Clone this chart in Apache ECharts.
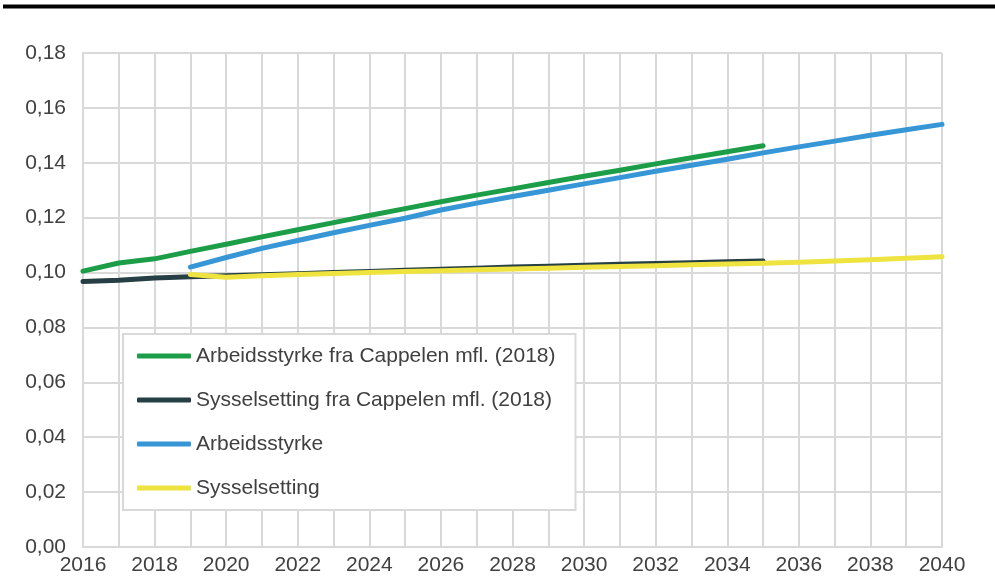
<!DOCTYPE html>
<html>
<head>
<meta charset="utf-8">
<script src="https://cdn.jsdelivr.net/npm/echarts@6/dist/echarts.min.js"></script>
<style>
  html, body { margin: 0; padding: 0; background: #fff; }
  #chart { width: 995px; height: 586px; }
</style>
</head>
<body>
<div id="chart"></div>
<script>
// årstall
var years = [];
for (var y = 2016; y <= 2040; y++) years.push(y);

var seriesNames = [
    'Arbeidsstyrke fra Cappelen mfl. (2018)',
    'Sysselsetting fra Cappelen mfl. (2018)',
    'Arbeidsstyrke',
    'Sysselsetting'
];

// 2016-2035
var arbCappelen = [0.1005, 0.1035, 0.1050, 0.1077, 0.1103, 0.1130, 0.1156, 0.1182, 0.1208, 0.1233,
                   0.1258, 0.1282, 0.1305, 0.1328, 0.1351, 0.1373, 0.1396, 0.1418, 0.1440, 0.1462];
// 2016-2035
var sysCappelen = [0.0967, 0.0972, 0.0980, 0.0985, 0.0988, 0.0992, 0.0996, 0.1000, 0.1004, 0.1008,
                   0.1012, 0.1016, 0.1020, 0.1023, 0.1027, 0.1030, 0.1033, 0.1036, 0.1039, 0.1042];
// 2019-2040
var arbeidsstyrke = [0.1020, 0.1055, 0.1088, 0.1117, 0.1145, 0.1172, 0.1198, 0.1228, 0.1253, 0.1277,
                     0.1300, 0.1323, 0.1346, 0.1369, 0.1391, 0.1413, 0.1436, 0.1458, 0.1479, 0.1500,
                     0.1520, 0.1540];
// 2019-2040
var sysselsetting = [0.0993, 0.0983, 0.0988, 0.0993, 0.0997, 0.1000, 0.1004, 0.1007, 0.1010, 0.1013,
                     0.1016, 0.1019, 0.1022, 0.1025, 0.1028, 0.1031, 0.1034, 0.1038, 0.1042, 0.1047,
                     0.1052, 0.1058];

var colors = ['#1c9e48', '#253f44', '#3796d5', '#eee33f'];

function toPairs(startYear, values) {
    return values.map(function (v, i) { return [startYear + i, v]; });
}

var chart = echarts.init(document.getElementById('chart'));
var textColor = '#404040';
var gridColor = '#d9d9d9';
var font = 'Liberation Sans, Arial, sans-serif';

function lineSeries(name, data, color) {
    return {
        name: name,
        type: 'line',
        data: data,
        showSymbol: false,
        symbol: 'none',
        smooth: false,
        lineStyle: { width: 5, color: color, cap: 'round', join: 'round' },
        itemStyle: { color: color }
    };
}

var option = {
    animation: false,
    color: colors,
    grid: { left: 83, right: 53, top: 53, bottom: 39 },
    graphic: [{
        type: 'line',
        shape: { x1: 3, y1: 6.5, x2: 995, y2: 6.5 },
        style: { stroke: '#000', lineWidth: 4 }
    }],
    xAxis: {
        type: 'value',
        min: 2016,
        max: 2040,
        interval: 1,
        axisLine: { show: true, lineStyle: { color: gridColor, width: 2 } },
        axisTick: { show: false },
        splitLine: { show: true, lineStyle: { color: gridColor, width: 2 } },
        axisLabel: {
            color: textColor,
            fontSize: 21,
            fontFamily: font,
            margin: 8,
            formatter: function (v) { return v % 2 === 0 ? String(v) : ''; }
        }
    },
    yAxis: {
        type: 'value',
        min: 0,
        max: 0.18,
        interval: 0.02,
        axisLine: { show: true, lineStyle: { color: gridColor, width: 2 } },
        axisTick: { show: false },
        splitLine: { show: true, lineStyle: { color: gridColor, width: 2 } },
        axisLabel: {
            color: textColor,
            fontSize: 21,
            fontFamily: font,
            margin: 17,
            formatter: function (v) { return v.toFixed(2).replace('.', ','); }
        }
    },
    legend: {
        orient: 'vertical',
        left: 123,
        top: 334,
        backgroundColor: '#fff',
        borderColor: gridColor,
        borderWidth: 2,
        padding: [10, 20, 10, 14],
        itemWidth: 54,
        itemHeight: 5,
        itemGap: 20,
        icon: 'roundRect',
        textStyle: {
            color: textColor,
            fontSize: 21,
            lineHeight: 24,
            fontFamily: font
        },
        data: seriesNames
    },
    series: [
        lineSeries(seriesNames[0], toPairs(2016, arbCappelen), colors[0]),
        lineSeries(seriesNames[1], toPairs(2016, sysCappelen), colors[1]),
        lineSeries(seriesNames[2], toPairs(2019, arbeidsstyrke), colors[2]),
        lineSeries(seriesNames[3], toPairs(2019, sysselsetting), colors[3])
    ]
};
chart.setOption(option);
</script>
</body>
</html>
